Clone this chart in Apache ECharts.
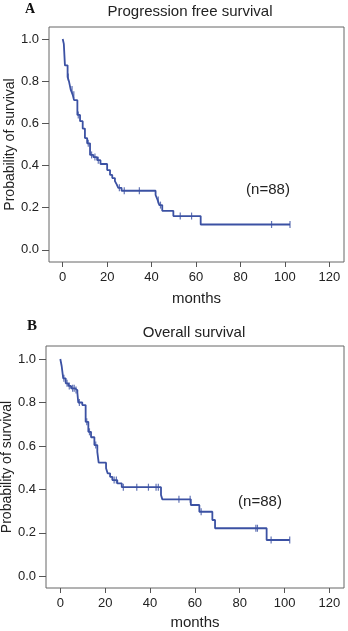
<!DOCTYPE html>
<html>
<head>
<meta charset="utf-8">
<script src="https://cdn.jsdelivr.net/npm/echarts@6/dist/echarts.min.js"></script>
<style>
  html, body { margin: 0; padding: 0; background: #fff; }
  #chart { width: 348px; height: 631px; }
</style>
</head>
<body>
<div id="chart"></div>
<script>
// panel A - progression free survival (step points: month, survival)
var pfsTime = [0, 0.5, 1.0, 2.2, 2.8, 3.6, 4.5, 5.1, 6.6, 7.8, 9.0, 10.0, 11.0, 12.3, 13.8, 15.5, 17.0,
               20.0, 21.3, 22.3, 23.5, 24.3, 25.0, 26.5, 41.8, 42.7, 43.5, 44.8, 49.8, 62.1, 102.3];
var pfsSurv = [1.0, 0.977, 0.875, 0.82, 0.80, 0.76, 0.735, 0.71, 0.64, 0.61, 0.575, 0.53, 0.505, 0.45, 0.44, 0.425, 0.407,
               0.378, 0.355, 0.34, 0.326, 0.31, 0.294, 0.28, 0.26, 0.236, 0.212, 0.185, 0.16, 0.12, 0.12];
var pfsCensor = [2.5, 4.2, 5.0, 7.0, 11.5, 13.0, 14.5, 16.0, 25.5, 27.7, 34.5, 43.0, 44.0, 52.9, 58.0, 94.0, 102.3];

// panel B - overall survival
var osTime = [0, 0.6, 1.3, 2.4, 3.6, 4.8, 6.6, 7.6, 8.0, 9.8, 11.3, 12.5, 13.7, 15.2, 16.5, 17.1, 20.4,
              21.1, 22.2, 23.2, 25.4, 27.4, 44.9, 45.5, 58.2, 62.0, 67.8, 69.0, 92.0, 102.3];
var osSurv = [1.0, 0.968, 0.911, 0.888, 0.876, 0.865, 0.857, 0.845, 0.80, 0.788, 0.711, 0.665, 0.64, 0.604, 0.573, 0.523, 0.497,
              0.474, 0.458, 0.443, 0.428, 0.41, 0.374, 0.354, 0.328, 0.297, 0.259, 0.221, 0.167, 0.167];
var osCensor = [1.6, 3.0, 4.0, 5.5, 6.2, 7.0, 8.5, 11.8, 13.0, 15.8, 24.0, 25.0, 28.1, 34.1, 39.3, 42.7, 43.7,
                52.9, 57.9, 62.8, 87.2, 87.9, 94.0, 102.3];

var xTicks = [0, 20, 40, 60, 80, 100, 120];
var yTicks = [0, 0.2, 0.4, 0.6, 0.8, 1.0];

var lineColor = '#3b51a3';
var font = 'Liberation Sans, Arial, sans-serif';

function stepAt(times, surv, t) {
  var s = surv[0];
  for (var i = 0; i < times.length; i++) {
    if (times[i] <= t) s = surv[i];
  }
  return s;
}
function pairs(times, surv) {
  return times.map(function (t, i) { return [t, surv[i]]; });
}
function censorPts(times, surv, cens) {
  return cens.map(function (t) { return [t, stepAt(times, surv, t)]; });
}

function xAxisFor(idx, min, max, gap) {
  return {
    type: 'value', gridIndex: idx, min: min, max: max, position: 'bottom',
    name: 'months', nameLocation: 'middle', nameGap: gap, nameMoveOverlap: false,
    nameTextStyle: { fontFamily: font, fontSize: 15, color: '#222' },
    axisLine: { show: false, onZero: false },
    axisTick: { show: true, customValues: xTicks, length: 5, inside: false, lineStyle: { color: '#555' } },
    axisLabel: { customValues: xTicks, margin: 9, fontFamily: font, fontSize: 13, color: '#222' },
    splitLine: { show: false }
  };
}
function yAxisFor(idx, min, max) {
  return {
    type: 'value', gridIndex: idx, min: min, max: max, position: 'left',
    name: 'Probability of survival', nameLocation: 'middle', nameGap: 32, nameMoveOverlap: false,
    nameTextStyle: { fontFamily: font, fontSize: 14, color: '#222' },
    axisLine: { show: false, onZero: false },
    axisTick: { show: true, customValues: yTicks, length: 7, lineStyle: { color: '#555' } },
    axisLabel: {
      customValues: yTicks, margin: 10, fontFamily: font, fontSize: 13, color: '#222',
      formatter: function (v) { return v.toFixed(1); }
    },
    splitLine: { show: false }
  };
}

var chart = echarts.init(document.getElementById('chart'), null, { renderer: 'canvas' });
var option = {
  animation: false,
  backgroundColor: '#fff',
  grid: [
    { left: 49, top: 27, width: 295, height: 235, show: true, borderColor: '#666', borderWidth: 1,
      backgroundColor: '#fff', outerBoundsMode: 'none' },
    { left: 46, top: 346, width: 298, height: 242, show: true, borderColor: '#666', borderWidth: 1,
      backgroundColor: '#fff', outerBoundsMode: 'none' }
  ],
  xAxis: [xAxisFor(0, -6.17, 126.6, 29), xAxisFor(1, -6.38, 126.5, 27)],
  yAxis: [yAxisFor(0, -0.058, 1.057), yAxisFor(1, -0.054, 1.060)],
  graphic: [
    { type: 'text', left: 25, top: 2, style: { text: 'A', font: 'bold 14px Liberation Serif, serif', fill: '#111' } },
    { type: 'text', x: 190, y: 12, style: { text: 'Progression free survival', font: '15px ' + font, fill: '#222',
      textAlign: 'center', textVerticalAlign: 'middle' } },
    { type: 'text', x: 268, y: 190, style: { text: '(n=88)', font: '15px ' + font, fill: '#222',
      textAlign: 'center', textVerticalAlign: 'middle' } },
    { type: 'text', left: 27, top: 319, style: { text: 'B', font: 'bold 15px Liberation Serif, serif', fill: '#111' } },
    { type: 'text', x: 194, y: 333, style: { text: 'Overall survival', font: '15px ' + font, fill: '#222',
      textAlign: 'center', textVerticalAlign: 'middle' } },
    { type: 'text', x: 260, y: 502, style: { text: '(n=88)', font: '15px ' + font, fill: '#222',
      textAlign: 'center', textVerticalAlign: 'middle' } }
  ],
  series: [
    { type: 'line', xAxisIndex: 0, yAxisIndex: 0, step: 'end', showSymbol: false,
      lineStyle: { color: lineColor, width: 1.8 }, data: pairs(pfsTime, pfsSurv) },
    { type: 'scatter', xAxisIndex: 0, yAxisIndex: 0, symbol: 'rect', symbolSize: [1.2, 7],
      itemStyle: { color: lineColor }, data: censorPts(pfsTime, pfsSurv, pfsCensor) },
    { type: 'line', xAxisIndex: 1, yAxisIndex: 1, step: 'end', showSymbol: false,
      lineStyle: { color: lineColor, width: 1.8 }, data: pairs(osTime, osSurv) },
    { type: 'scatter', xAxisIndex: 1, yAxisIndex: 1, symbol: 'rect', symbolSize: [1.2, 7],
      itemStyle: { color: lineColor }, data: censorPts(osTime, osSurv, osCensor) }
  ]
};
chart.setOption(option);
</script>
</body>
</html>
